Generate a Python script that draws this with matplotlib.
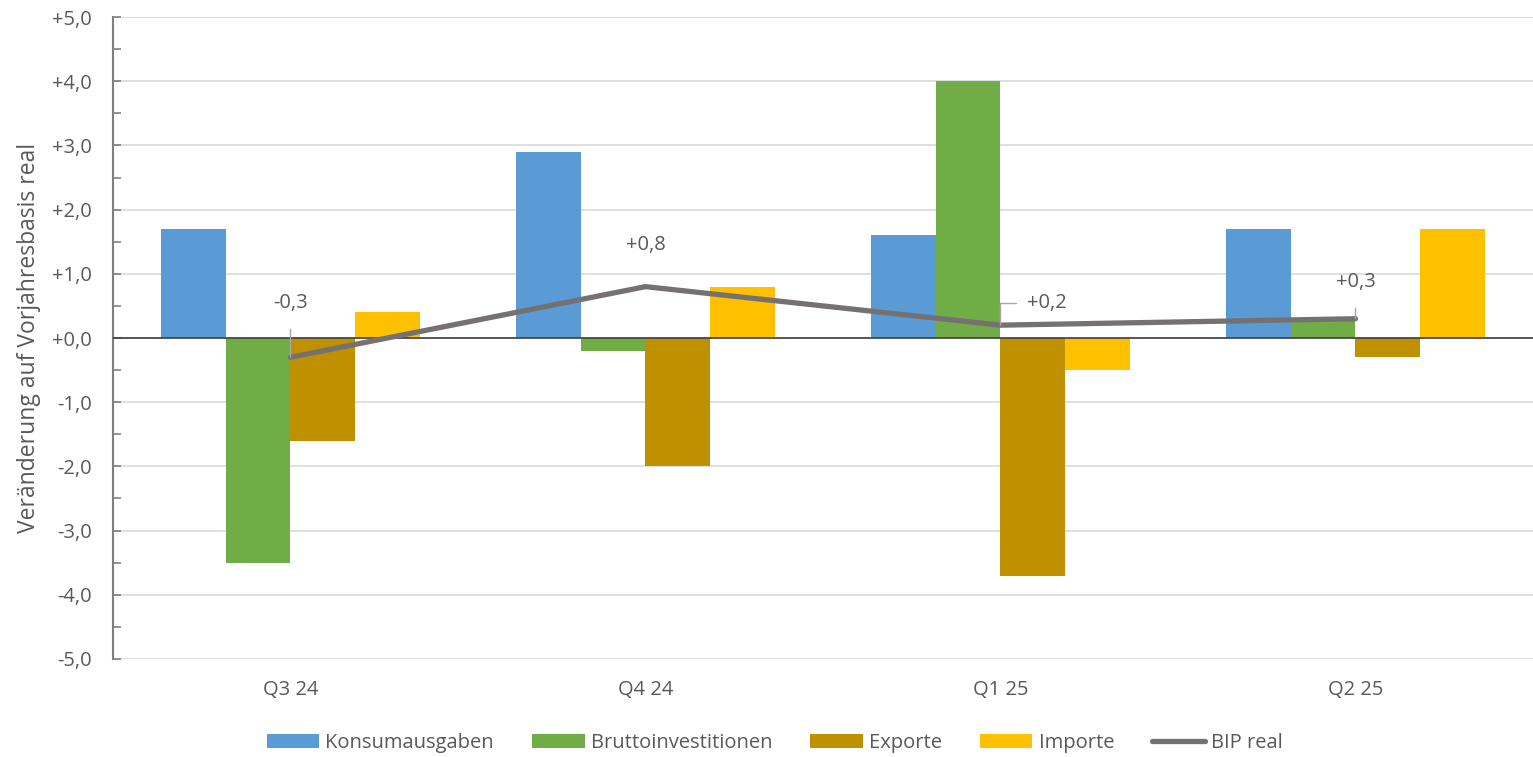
import matplotlib
matplotlib.use('Agg')
import matplotlib.pyplot as plt
from matplotlib.ticker import FixedLocator, FuncFormatter
import numpy as np

plt.rcParams['font.family'] = ['Open Sans', 'DejaVu Sans']

quarters = ['Q3 24', 'Q4 24', 'Q1 25', 'Q2 25']
konsum = [1.7, 2.9, 1.6, 1.7]
brutto = [-3.5, -0.2, 4.0, 0.3]
exporte = [-1.6, -2.0, -3.7, -0.3]
importe = [0.4, 0.8, -0.5, 1.7]
bip = [-0.3, 0.8, 0.2, 0.3]

series = [
    ('Konsumausgaben', konsum, '#5B9BD5'),
    ('Bruttoinvestitionen', brutto, '#70AD47'),
    ('Exporte', exporte, '#BF9000'),
    ('Importe', importe, '#FFC000'),
]

txt = '#595959'
fs = 14.5
fig = plt.figure(figsize=(15.33, 7.57), dpi=100)
ax = fig.add_axes([0.0737, 0.1295, 0.9263, 0.848])

x = np.arange(len(quarters))
w = 0.183
for i, (name, vals, col) in enumerate(series):
    ax.bar(x + (i - 1.5) * w, vals, width=w, color=col, label=name, zorder=2)

ax.plot(x, bip, color='#767171', lw=3.8, label='BIP real', zorder=4,
        solid_capstyle='round')

# value labels for the BIP line with leader lines
fmt = lambda v: f'{v:+.1f}'.replace('.', ',')
lab_pos = [(0.0, 0.55), (1.0, 1.45), (2.13, 0.54), (3.0, 0.88)]
for i, (v, (tx, ty)) in enumerate(zip(bip, lab_pos)):
    if i == 1:
        ax.text(tx, ty, fmt(v), ha='center', va='center', fontsize=fs, color=txt, zorder=5)
    elif i == 2:
        ax.annotate(fmt(v), xy=(x[i], v), xytext=(tx, ty), ha='center', va='center',
                    fontsize=fs, color=txt, zorder=5,
                    arrowprops=dict(arrowstyle='-', color='#a6a6a6', lw=1,
                                    shrinkA=6, shrinkB=0,
                                    connectionstyle='angle,angleA=0,angleB=90,rad=0'))
    else:
        ax.annotate(fmt(v), xy=(x[i], v), xytext=(tx, ty), ha='center', va='center',
                    fontsize=fs, color=txt, zorder=5,
                    arrowprops=dict(arrowstyle='-', color='#a6a6a6', lw=1,
                                    shrinkA=10, shrinkB=0))

ax.set_xlim(-0.5, 3.5)
ax.set_ylim(-5, 5)
ax.yaxis.set_major_locator(FixedLocator(np.arange(-5, 5.1, 1)))
ax.yaxis.set_minor_locator(FixedLocator(np.arange(-4.5, 5, 1)))
ax.yaxis.set_major_formatter(FuncFormatter(lambda v, p: fmt(v) if abs(v) > 1e-9 else '+0,0'))
ax.grid(axis='y', which='major', color='#d9d9d9', lw=1.2, zorder=0)
ax.axhline(0, color='#404040', lw=1.2, zorder=3)

ax.set_xticks(x)
ax.set_xticklabels(quarters)
ax.tick_params(axis='x', length=0, labelsize=fs, labelcolor=txt, pad=15)
ax.tick_params(axis='y', which='both', direction='in', length=6, width=1.2,
               color='#7f7f7f', labelsize=fs, labelcolor=txt, pad=15)

for s in ['top', 'right', 'bottom']:
    ax.spines[s].set_visible(False)
ax.spines['left'].set_color('#7f7f7f')
ax.spines['left'].set_linewidth(1.5)

ax.set_ylabel('Veränderung auf Vorjahresbasis real', fontsize=16.5, color=txt, labelpad=8)

handles, labels = ax.get_legend_handles_labels()
order = [1, 2, 3, 4, 0]
ax.legend([handles[k] for k in order], [labels[k] for k in order],
          loc='center', bbox_to_anchor=(0.466, -0.131), ncol=5, frameon=False,
          fontsize=fs, labelcolor=txt, handlelength=2.6, handleheight=0.7,
          handletextpad=0.3, columnspacing=1.9)

fig.savefig('out.png', dpi=100)
